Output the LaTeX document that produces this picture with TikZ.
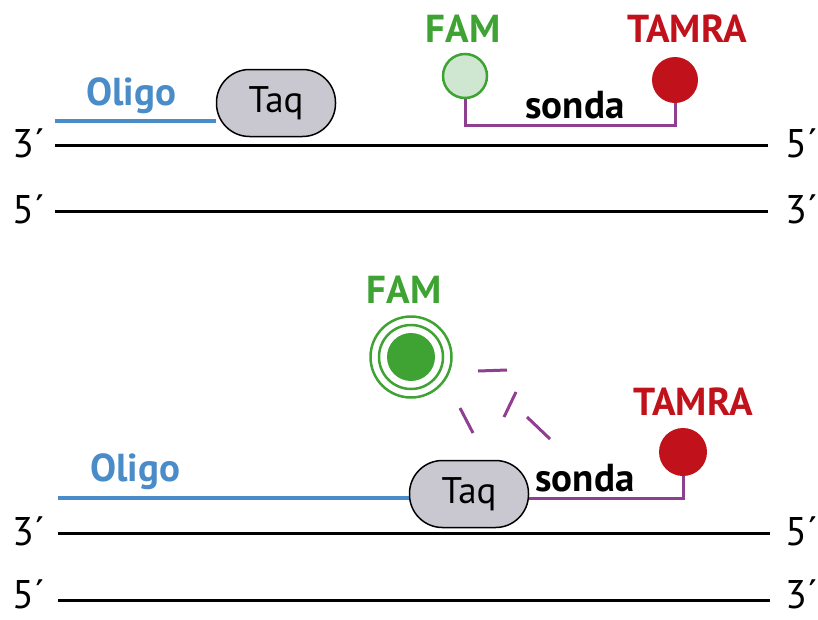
\documentclass[tikz,border=0pt]{standalone}
\usepackage{fontspec}
\setmainfont{PT Sans}
\definecolor{oligoblue}{HTML}{4A8CC7}
\definecolor{famgreen}{HTML}{3EA332}
\definecolor{famlight}{HTML}{CFE6D1}
\definecolor{tamrared}{HTML}{C1121C}
\definecolor{probepurple}{HTML}{8F3F91}
\definecolor{taqgrey}{HTML}{C9C7CF}
\begin{document}
\begin{tikzpicture}[x=1pt,y=-1pt,
  every node/.style={font=\fontsize{40}{44}\selectfont,inner sep=0pt},
  strand/.style={line width=3pt,black},
  oligo/.style={line width=4pt,oligoblue},
  probe/.style={line width=3pt,probepurple},
  taq/.style={draw,line width=1.5pt,fill=taqgrey,minimum width=119pt,minimum height=67pt,rounded corners=33pt,font=\fontsize{37}{40}\selectfont},
  endlabel/.style={anchor=base},
  rightlabel/.style={anchor=base west},
  tag/.style={anchor=base,font=\fontsize{39}{42}\selectfont\bfseries},
  dye/.style={circle,inner sep=0pt}]
  \useasboundingbox (0,0) rectangle (818,619);

  % ---- before cleavage ----
  \node[endlabel] (l3a) at (29,157) {3´};
  \node[rightlabel] (r5a) at (785,157) {5´};
  \node[endlabel] (l5a) at (29,223) {5´};
  \node[rightlabel] (r3a) at (785,223) {3´};
  \coordinate (s1a) at (55,145);  \coordinate (e1a) at (768,145);
  \coordinate (s2a) at (55,211);  \coordinate (e2a) at (768,211);
  \draw[strand] (s1a) -- (e1a);
  \draw[strand] (s2a) -- (e2a);

  \node[taq] (taq1) at (276,103) {Taq};
  \coordinate (o1) at (55,121);
  \draw[oligo] (o1) -- (o1 -| taq1.west);
  \node[tag,text=oligoblue] (olig1) at (131,105) {Oligo};

  \node[dye,draw=famgreen,line width=2.5pt,fill=famlight,minimum size=44pt] (fam1) at (465,76) {};
  \node[dye,fill=tamrared,minimum size=46pt] (tam1) at (675,80) {};
  \node[tag,text=famgreen] (famt1) at (463,42) {FAM};
  \node[tag,text=tamrared] (tamt1) at (687,42) {TAMRA};
  \draw[probe] (fam1.south) -- ++(0,26) -| (tam1.south);
  \node[tag] (son1) at (575,118) {sonda};

  % ---- after cleavage ----
  \node[endlabel] (l3b) at (29,545) {3´};
  \node[rightlabel] (r5b) at (785,545) {5´};
  \node[endlabel] (l5b) at (29,608) {5´};
  \node[rightlabel] (r3b) at (785,608) {3´};
  \coordinate (s1b) at (58,533);  \coordinate (e1b) at (770,533);
  \coordinate (s2b) at (58,600);  \coordinate (e2b) at (770,600);
  \draw[strand] (s1b) -- (e1b);
  \draw[strand] (s2b) -- (e2b);

  \node[taq] (taq2) at (469,494) {Taq};
  \coordinate (o2) at (58,498);
  \draw[oligo] (o2) -- (o2 -| taq2.west);
  \node[tag,text=oligoblue] (olig2) at (135,481) {Oligo};

  \node[dye,fill=tamrared,minimum size=48pt] (tam2) at (683,452) {};
  \node[tag,text=tamrared] (tamt2) at (693,415) {TAMRA};
  \draw[probe] (taq2.east |- o2) -| (tam2.south);
  \node[tag] (son2) at (585,491) {sonda};

  % free FAM, glowing
  \node[dye,fill=famgreen,minimum size=48pt] (fam2) at (411,357) {};
  \draw[famgreen,line width=2.5pt] (fam2) circle (32pt) (fam2) circle (40.5pt);
  \node[tag,text=famgreen] (famt2) at (404,303) {FAM};

  % probe fragments
  \draw[probe] (478,371) -- (507,370);
  \draw[probe] (460,408) -- (473,433);
  \draw[probe] (516,392) -- (504,417);
  \draw[probe] (527,417) -- (550,439);
\end{tikzpicture}
\end{document}
